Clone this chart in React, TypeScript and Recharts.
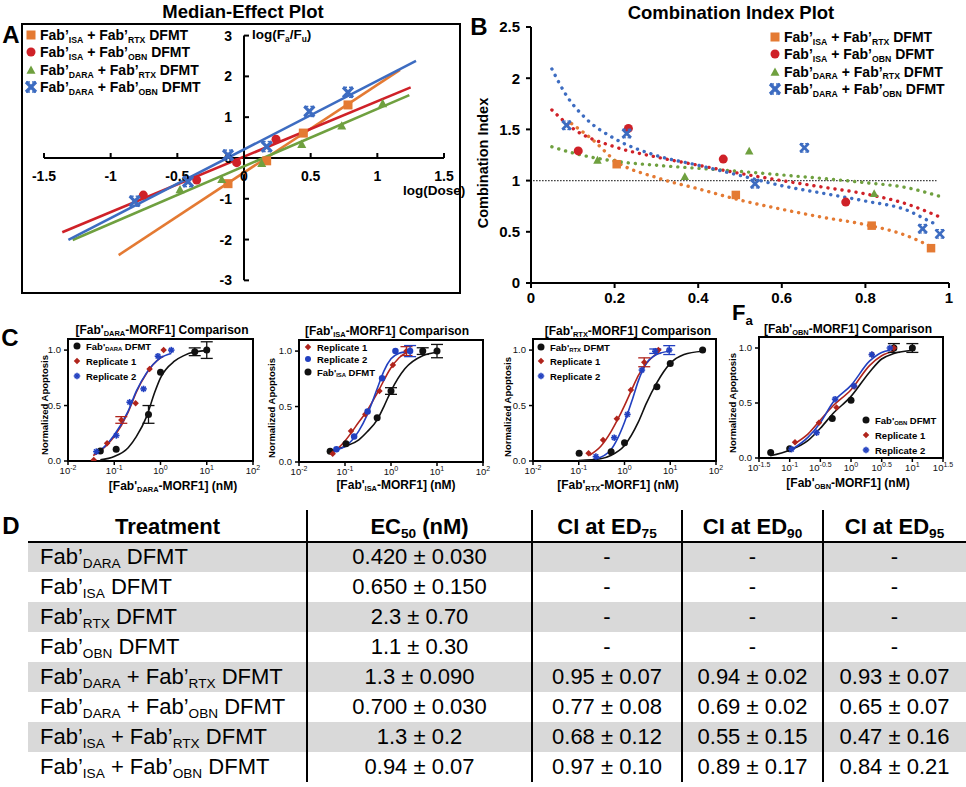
import React from "react"
import {
  ComposedChart, Line, Scatter, XAxis, YAxis, ReferenceLine, ReferenceArea, ErrorBar,
} from "recharts"

const ARIAL = "'Liberation Sans', Arial, sans-serif"

// combinations shared by panels A and B
const COMBOS = [["ISA", "RTX"], ["ISA", "OBN"], ["DARA", "RTX"], ["DARA", "OBN"]]
const COMBO_COLORS = ["#E47A33", "#CF2128", "#6FA03F", "#3D6CC1"]
const COMBO_SHAPES = ["square", "circle", "triangle", "cross"]

// ---- A: median-effect plot (log(Dose) vs log(Fa/Fu)) ----
const ME_X_TICKS = [-1.5, -1, -0.5, 0, 0.5, 1, 1.5]
const ME_Y_TICKS = [-3, -2, -1, 0, 1, 2, 3]
const ME_PTS_ISA_RTX = [{ x: -0.12, y: -0.63 }, { x: 0.17, y: -0.07 }, { x: 0.445, y: 0.61 }, { x: 0.78, y: 1.3 }]
const ME_PTS_ISA_OBN = [{ x: -0.755, y: -0.91 }, { x: -0.355, y: -0.54 }, { x: -0.055, y: -0.115 }, { x: 0.24, y: 0.46 }]
const ME_PTS_DARA_RTX = [{ x: -0.48, y: -0.77 }, { x: -0.167, y: -0.52 }, { x: 0.133, y: -0.13 }, { x: 0.433, y: 0.34 }, { x: 0.733, y: 0.79 }, { x: 1.04, y: 1.34 }]
const ME_PTS_DARA_OBN = [{ x: -0.82, y: -1.06 }, { x: -0.42, y: -0.58 }, { x: -0.12, y: 0.07 }, { x: 0.17, y: 0.28 }, { x: 0.49, y: 1.14 }, { x: 0.78, y: 1.61 }]
const ME_FIT_ISA_RTX = [{ x: -0.94, y: -2.38 }, { x: 1.17, y: 2.16 }]
const ME_FIT_ISA_OBN = [{ x: -1.363, y: -1.82 }, { x: 1.25, y: 1.73 }]
const ME_FIT_DARA_RTX = [{ x: -1.285, y: -2.01 }, { x: 1.24, y: 1.54 }]
const ME_FIT_DARA_OBN = [{ x: -1.317, y: -2.01 }, { x: 1.29, y: 2.38 }]

// ---- B: combination index plot (Fa vs CI) ----
const CI_X_TICKS = [0, 0.2, 0.4, 0.6, 0.8, 1]
const CI_Y_TICKS = [0, 0.5, 1, 1.5, 2, 2.5]
const CI_PTS_ISA_RTX = [{ x: 0.205, y: 1.16 }, { x: 0.49, y: 0.86 }, { x: 0.815, y: 0.56 }, { x: 0.957, y: 0.34 }]
const CI_PTS_ISA_OBN = [{ x: 0.113, y: 1.29 }, { x: 0.233, y: 1.51 }, { x: 0.46, y: 1.21 }, { x: 0.753, y: 0.79 }]
const CI_PTS_DARA_RTX = [{ x: 0.159, y: 1.2 }, { x: 0.368, y: 1.04 }, { x: 0.522, y: 1.29 }, { x: 0.821, y: 0.875 }]
const CI_PTS_DARA_OBN = [{ x: 0.085, y: 1.54 }, { x: 0.229, y: 1.46 }, { x: 0.536, y: 0.97 }, { x: 0.654, y: 1.32 }, { x: 0.937, y: 0.53 }, { x: 0.978, y: 0.48 }]
const CI_FIT_ISA_RTX = [{ x: 0.097, y: 1.556 }, { x: 0.15, y: 1.39 }, { x: 0.2, y: 1.2 }, { x: 0.3, y: 1.03 }, { x: 0.4, y: 0.92 }, { x: 0.5, y: 0.81 }, { x: 0.6, y: 0.72 }, { x: 0.7, y: 0.64 }, { x: 0.8, y: 0.57 }, { x: 0.9, y: 0.46 }, { x: 0.96, y: 0.35 }]
const CI_FIT_ISA_OBN = [{ x: 0.05, y: 1.69 }, { x: 0.1, y: 1.51 }, { x: 0.2, y: 1.33 }, { x: 0.3, y: 1.23 }, { x: 0.4, y: 1.15 }, { x: 0.5, y: 1.07 }, { x: 0.6, y: 1.0 }, { x: 0.7, y: 0.935 }, { x: 0.8, y: 0.87 }, { x: 0.9, y: 0.77 }, { x: 0.975, y: 0.65 }]
const CI_FIT_DARA_RTX = [{ x: 0.05, y: 1.33 }, { x: 0.1, y: 1.27 }, { x: 0.2, y: 1.19 }, { x: 0.3, y: 1.15 }, { x: 0.4, y: 1.12 }, { x: 0.5, y: 1.09 }, { x: 0.6, y: 1.055 }, { x: 0.7, y: 1.02 }, { x: 0.8, y: 0.98 }, { x: 0.9, y: 0.93 }, { x: 0.975, y: 0.85 }]
const CI_FIT_DARA_OBN = [{ x: 0.05, y: 2.09 }, { x: 0.085, y: 1.83 }, { x: 0.133, y: 1.6 }, { x: 0.2, y: 1.41 }, { x: 0.3, y: 1.245 }, { x: 0.4, y: 1.15 }, { x: 0.5, y: 1.05 }, { x: 0.6, y: 0.95 }, { x: 0.7, y: 0.875 }, { x: 0.8, y: 0.8 }, { x: 0.9, y: 0.71 }, { x: 0.95, y: 0.61 }, { x: 0.975, y: 0.56 }]

// ---- C: dose-response comparisons (nM vs normalized apoptosis) ----
const DEC_TICKS = [0.01, 0.1, 1, 10, 100]
const HALF_DEC_TICKS = [0.0316, 0.1, 0.316, 1, 3.16, 10, 31.6]

const DARA_DFMT_PTS = [{ x: 0.05, y: 0.09, e: 0 }, { x: 0.11, y: 0.106, e: 0 }, { x: 0.55, y: 0.42, e: 0.08 }, { x: 1.0, y: 0.8, e: 0 }, { x: 5.5, y: 0.985, e: 0.035 }, { x: 10, y: 1.0, e: 0.075 }]
const DARA_R1_PTS = [{ x: 0.036, y: 0.01, e: 0 }, { x: 0.07, y: 0.16, e: 0 }, { x: 0.142, y: 0.37, e: 0.03 }, { x: 0.29, y: 0.52, e: 0 }, { x: 0.58, y: 0.83, e: 0 }, { x: 1.17, y: 1.0, e: 0 }]
const DARA_R2_PTS = [{ x: 0.041, y: 0.085, e: 0 }, { x: 0.111, y: 0.23, e: 0 }, { x: 0.215, y: 0.53, e: 0 }, { x: 0.43, y: 0.65, e: 0 }, { x: 0.88, y: 0.945, e: 0 }, { x: 1.71, y: 1.0, e: 0 }]
const DARA_DFMT_FIT = [{ x: 0.05, y: 0.01 }, { x: 0.1, y: 0.04 }, { x: 0.2, y: 0.12 }, { x: 0.3, y: 0.22 }, { x: 0.5, y: 0.4 }, { x: 0.75, y: 0.62 }, { x: 1, y: 0.75 }, { x: 2, y: 0.9 }, { x: 3.2, y: 0.95 }, { x: 5, y: 0.98 }, { x: 10, y: 0.995 }]
const DARA_R1_FIT = [{ x: 0.035, y: 0.05 }, { x: 0.05, y: 0.09 }, { x: 0.1, y: 0.22 }, { x: 0.2, y: 0.44 }, { x: 0.3, y: 0.62 }, { x: 0.5, y: 0.79 }, { x: 1, y: 0.93 }, { x: 1.15, y: 0.945 }]
const DARA_R2_FIT = [{ x: 0.038, y: 0.08 }, { x: 0.05, y: 0.1 }, { x: 0.1, y: 0.235 }, { x: 0.2, y: 0.45 }, { x: 0.3, y: 0.63 }, { x: 0.5, y: 0.795 }, { x: 1, y: 0.93 }, { x: 1.7, y: 0.97 }]

const ISA_DFMT_PTS = [{ x: 0.0475, y: 0.096, e: 0 }, { x: 0.105, y: 0.165, e: 0 }, { x: 0.5, y: 0.4, e: 0 }, { x: 1.0, y: 0.64, e: 0.03 }, { x: 4.9, y: 1.0, e: 0.03 }, { x: 10, y: 1.0, e: 0.06 }]
const ISA_R1_PTS = [{ x: 0.054, y: 0.075, e: 0 }, { x: 0.135, y: 0.28, e: 0 }, { x: 0.276, y: 0.43, e: 0 }, { x: 0.56, y: 0.64, e: 0 }, { x: 1.1, y: 0.875, e: 0 }, { x: 2.17, y: 1.0, e: 0.04 }]
const ISA_R2_PTS = [{ x: 0.065, y: 0.115, e: 0 }, { x: 0.158, y: 0.23, e: 0 }, { x: 0.31, y: 0.455, e: 0 }, { x: 0.64, y: 0.755, e: 0 }, { x: 1.25, y: 1.0, e: 0 }, { x: 2.6, y: 1.0, e: 0.05 }]
const ISA_DFMT_FIT = [{ x: 0.045, y: 0.095 }, { x: 0.1, y: 0.14 }, { x: 0.2, y: 0.2 }, { x: 0.3, y: 0.27 }, { x: 0.5, y: 0.38 }, { x: 0.7, y: 0.5 }, { x: 1, y: 0.64 }, { x: 2, y: 0.84 }, { x: 5, y: 0.96 }, { x: 10, y: 0.99 }]
const ISA_R1_FIT = [{ x: 0.055, y: 0.08 }, { x: 0.1, y: 0.19 }, { x: 0.2, y: 0.36 }, { x: 0.3, y: 0.46 }, { x: 0.5, y: 0.62 }, { x: 1, y: 0.85 }, { x: 1.5, y: 0.94 }, { x: 2.2, y: 0.99 }]
const ISA_R2_FIT = [{ x: 0.065, y: 0.11 }, { x: 0.1, y: 0.14 }, { x: 0.2, y: 0.28 }, { x: 0.3, y: 0.42 }, { x: 0.5, y: 0.66 }, { x: 0.7, y: 0.82 }, { x: 1, y: 0.93 }, { x: 1.5, y: 0.98 }, { x: 2.6, y: 1.0 }]

const RTX_DFMT_PTS = [{ x: 0.102, y: 0.07, e: 0 }, { x: 0.51, y: 0.084, e: 0 }, { x: 1.0, y: 0.165, e: 0 }, { x: 5.1, y: 0.67, e: 0 }, { x: 10, y: 0.88, e: 0 }, { x: 51, y: 1.0, e: 0 }]
const RTX_R1_PTS = [{ x: 0.164, y: 0.07, e: 0 }, { x: 0.34, y: 0.19, e: 0 }, { x: 0.68, y: 0.38, e: 0 }, { x: 1.38, y: 0.64, e: 0 }, { x: 2.7, y: 0.89, e: 0.04 }, { x: 5.5, y: 1.0, e: 0 }]
const RTX_R2_PTS = [{ x: 0.237, y: 0.04, e: 0 }, { x: 0.596, y: 0.21, e: 0 }, { x: 1.16, y: 0.42, e: 0 }, { x: 2.4, y: 0.82, e: 0 }, { x: 4.7, y: 0.99, e: 0.02 }, { x: 9.5, y: 1.0, e: 0.04 }]
const RTX_DFMT_FIT = [{ x: 0.1, y: 0.005 }, { x: 0.3, y: 0.02 }, { x: 0.5, y: 0.05 }, { x: 1, y: 0.14 }, { x: 2, y: 0.35 }, { x: 3, y: 0.52 }, { x: 5, y: 0.7 }, { x: 10, y: 0.88 }, { x: 20, y: 0.96 }, { x: 50, y: 0.99 }]
const RTX_R1_FIT = [{ x: 0.17, y: 0.05 }, { x: 0.3, y: 0.13 }, { x: 0.5, y: 0.26 }, { x: 0.7, y: 0.37 }, { x: 1, y: 0.5 }, { x: 1.5, y: 0.66 }, { x: 2, y: 0.77 }, { x: 3, y: 0.88 }, { x: 5.5, y: 0.98 }]
const RTX_R2_FIT = [{ x: 0.24, y: 0.02 }, { x: 0.5, y: 0.1 }, { x: 0.7, y: 0.2 }, { x: 1, y: 0.35 }, { x: 1.5, y: 0.56 }, { x: 2, y: 0.72 }, { x: 3, y: 0.88 }, { x: 5, y: 0.96 }, { x: 9.5, y: 0.99 }]

const OBN_DFMT_PTS = [{ x: 0.049, y: 0.05, e: 0 }, { x: 0.1, y: 0.084, e: 0 }, { x: 0.495, y: 0.36, e: 0 }, { x: 1.0, y: 0.525, e: 0 }, { x: 5.0, y: 1.0, e: 0.04 }, { x: 10, y: 1.0, e: 0.04 }]
const OBN_R1_PTS = [{ x: 0.122, y: 0.144, e: 0 }, { x: 0.3, y: 0.32, e: 0 }, { x: 0.58, y: 0.46, e: 0 }, { x: 1.13, y: 0.65, e: 0 }, { x: 2.2, y: 0.94, e: 0 }, { x: 5.0, y: 1.0, e: 0 }]
const OBN_R2_PTS = [{ x: 0.107, y: 0.08, e: 0 }, { x: 0.275, y: 0.23, e: 0 }, { x: 0.55, y: 0.535, e: 0 }, { x: 1.12, y: 0.655, e: 0 }, { x: 2.18, y: 0.94, e: 0 }, { x: 4.3, y: 1.0, e: 0 }]
const OBN_DFMT_FIT = [{ x: 0.048, y: 0.02 }, { x: 0.1, y: 0.07 }, { x: 0.2, y: 0.16 }, { x: 0.316, y: 0.27 }, { x: 0.5, y: 0.4 }, { x: 1, y: 0.56 }, { x: 2, y: 0.78 }, { x: 3.16, y: 0.9 }, { x: 5, y: 0.95 }, { x: 10, y: 0.98 }]
const OBN_R1_FIT = [{ x: 0.12, y: 0.13 }, { x: 0.2, y: 0.22 }, { x: 0.316, y: 0.345 }, { x: 0.5, y: 0.47 }, { x: 1, y: 0.62 }, { x: 2, y: 0.84 }, { x: 3.16, y: 0.93 }, { x: 5, y: 0.97 }]
const OBN_R2_FIT = [{ x: 0.11, y: 0.08 }, { x: 0.2, y: 0.19 }, { x: 0.316, y: 0.32 }, { x: 0.5, y: 0.5 }, { x: 1, y: 0.66 }, { x: 2, y: 0.88 }, { x: 3.16, y: 0.96 }, { x: 4.3, y: 0.98 }]

// ---- D: table ----
const TREATMENTS = [["DARA"], ["ISA"], ["RTX"], ["OBN"], ["DARA", "RTX"], ["DARA", "OBN"], ["ISA", "RTX"], ["ISA", "OBN"]]
const EC50 = ["0.420 ± 0.030", "0.650 ± 0.150", "2.3 ± 0.70", "1.1 ± 0.30", "1.3 ± 0.090", "0.700 ± 0.030", "1.3 ± 0.2", "0.94 ± 0.07"]
const CI_ED75 = ["-", "-", "-", "-", "0.95 ± 0.07", "0.77 ± 0.08", "0.68 ± 0.12", "0.97 ± 0.10"]
const CI_ED90 = ["-", "-", "-", "-", "0.94 ± 0.02", "0.69 ± 0.02", "0.55 ± 0.15", "0.89 ± 0.17"]
const CI_ED95 = ["-", "-", "-", "-", "0.93 ± 0.07", "0.65 ± 0.07", "0.47 ± 0.16", "0.84 ± 0.21"]

const C_BLACK = "#111111"
const C_RED = "#B0241C"
const C_BLUE = "#2240C0"

function Mark({ shape, color, cx, cy, s }: { shape: string; color: string; cx: number; cy: number; s: number }) {
  const h = s / 2
  if (shape === "square") return <rect x={cx - h} y={cy - h} width={s} height={s} fill={color} />
  if (shape === "circle") return <circle cx={cx} cy={cy} r={h} fill={color} />
  if (shape === "triangle") return <polygon points={`${cx},${cy - h} ${cx + h},${cy + h * 0.85} ${cx - h},${cy + h * 0.85}`} fill={color} />
  if (shape === "diamond") return <polygon points={`${cx},${cy - h} ${cx + h},${cy} ${cx},${cy + h} ${cx - h},${cy}`} fill={color} />
  if (shape === "cross")
    return (
      <g stroke={color}>
        <line x1={cx - h} y1={cy - h} x2={cx + h} y2={cy + h} strokeWidth={s * 0.32} />
        <line x1={cx + h} y1={cy - h} x2={cx - h} y2={cy + h} strokeWidth={s * 0.32} />
        <line x1={cx - h} y1={cy - h} x2={cx - h * 0.2} y2={cy - h} strokeWidth={s * 0.14} />
        <line x1={cx + h * 0.2} y1={cy - h} x2={cx + h} y2={cy - h} strokeWidth={s * 0.14} />
        <line x1={cx - h} y1={cy + h} x2={cx - h * 0.2} y2={cy + h} strokeWidth={s * 0.14} />
        <line x1={cx + h * 0.2} y1={cy + h} x2={cx + h} y2={cy + h} strokeWidth={s * 0.14} />
      </g>
    )
  // asterisk
  return (
    <g stroke={color} strokeWidth={1.6}>
      <line x1={cx - h} y1={cy} x2={cx + h} y2={cy} />
      <line x1={cx} y1={cy - h} x2={cx} y2={cy + h} />
      <line x1={cx - h * 0.7} y1={cy - h * 0.7} x2={cx + h * 0.7} y2={cy + h * 0.7} />
      <line x1={cx + h * 0.7} y1={cy - h * 0.7} x2={cx - h * 0.7} y2={cy + h * 0.7} />
    </g>
  )
}

function Sub({ children }: { children: React.ReactNode }) {
  return <span style={{ fontSize: "0.62em", position: "relative", top: "0.32em" }}>{children}</span>
}

function Combo({ abs, prime = "’" }: { abs: string[]; prime?: string }) {
  return (
    <>
      {abs.map((a, i) => (
        <React.Fragment key={a}>
          {i > 0 ? " + " : ""}Fab{prime}<Sub>{a}</Sub>
        </React.Fragment>
      ))}{" "}DFMT
    </>
  )
}

function At({ x, y, children, style, rotate }: { x: number; y: number; children: React.ReactNode; style?: React.CSSProperties; rotate?: boolean }) {
  return (
    <div
      style={{
        position: "absolute", left: x, top: y, whiteSpace: "nowrap", lineHeight: 1,
        transform: `translate(-50%, -50%)${rotate ? " rotate(-90deg)" : ""}`, ...style,
      }}
    >
      {children}
    </div>
  )
}

function LegendRow({ x, y, shape, color, s, font, children }: { x: number; y: number; shape: string; color: string; s: number; font: number; children: React.ReactNode }) {
  return (
    <div style={{ position: "absolute", left: x - 8, top: y - 8, height: 16, display: "flex", alignItems: "center", whiteSpace: "nowrap", fontWeight: 700, fontSize: font }}>
      <svg width={16} height={16} style={{ flex: "none" }}>
        <Mark shape={shape} color={color} cx={8} cy={8} s={s} />
      </svg>
      <span style={{ marginLeft: 1 }}>{children}</span>
    </div>
  )
}

function PanelA() {
  const L = 22, T = 24, W = 438, H = 269
  const fits = [ME_FIT_ISA_RTX, ME_FIT_ISA_OBN, ME_FIT_DARA_RTX, ME_FIT_DARA_OBN]
  const pts = [ME_PTS_ISA_RTX, ME_PTS_ISA_OBN, ME_PTS_DARA_RTX, ME_PTS_DARA_OBN]
  const tickFont = { fontSize: 14, fontWeight: 700, fontFamily: ARIAL, fill: "#000" }
  return (
    <>
      <div style={{ position: "absolute", left: L - 1, top: T - 1, width: W + 2, height: H + 2, border: "2px solid #000", boxSizing: "border-box" }} />
      <div style={{ position: "absolute", left: L, top: T }}>
        <ComposedChart width={W} height={H} margin={{ top: 0, right: 0, left: 0, bottom: 0 }}>
          <XAxis hide type="number" dataKey="x" domain={[-1.665, 1.62]} allowDataOverflow />
          <YAxis hide type="number" dataKey="y" domain={[-3.31, 3.284]} allowDataOverflow />
          <ReferenceLine segment={[{ x: -1.5, y: 0 }, { x: 1.5, y: 0 }]} stroke="#000" strokeWidth={2} />
          <ReferenceLine segment={[{ x: 0, y: -3 }, { x: 0, y: 3 }]} stroke="#000" strokeWidth={2} />
          <Scatter
            data={ME_X_TICKS.map((v) => ({ x: v, y: 0 }))}
            isAnimationActive={false}
            shape={(p: any) => (
              <g>
                <line x1={p.cx} x2={p.cx} y1={p.cy} y2={p.cy - 5} stroke="#000" strokeWidth={2} />
                <text x={p.cx} y={p.cy + 23} textAnchor="middle" {...tickFont}>{String(p.payload.x)}</text>
              </g>
            )}
          />
          <Scatter
            data={ME_Y_TICKS.map((v) => ({ x: 0, y: v }))}
            isAnimationActive={false}
            shape={(p: any) => (
              <g>
                <line x1={p.cx} x2={p.cx + 5} y1={p.cy} y2={p.cy} stroke="#000" strokeWidth={2} />
                <text x={p.cx - 12} y={p.cy + 5} textAnchor="end" {...tickFont}>{String(p.payload.y)}</text>
              </g>
            )}
          />
          {fits.map((d, i) => (
            <Line key={"f" + i} data={d} dataKey="y" type="linear" stroke={COMBO_COLORS[i]} strokeWidth={2.6} dot={false} isAnimationActive={false} />
          ))}
          {pts.map((d, i) => (
            <Scatter key={"p" + i} data={d} isAnimationActive={false}
              shape={(p: any) => <Mark shape={COMBO_SHAPES[i]} color={COMBO_COLORS[i]} cx={p.cx} cy={p.cy} s={i === 3 ? 10 : 9} />} />
          ))}
        </ComposedChart>
      </div>
      <At x={243} y={12} style={{ fontSize: 18.5, fontWeight: 700 }}>Median-Effect Plot</At>
      <At x={11} y={35} style={{ fontSize: 24, fontWeight: 700 }}>A</At>
      {COMBOS.map((c, i) => (
        <LegendRow key={i} x={31} y={35 + i * 17.4} shape={COMBO_SHAPES[i]} color={COMBO_COLORS[i]} s={i === 3 ? 10 : 9} font={14}>
          <Combo abs={c} />
        </LegendRow>
      ))}
      <div style={{ position: "absolute", left: 252, top: 27, fontSize: 13.5, fontWeight: 700, whiteSpace: "nowrap" }}>
        log(F<Sub>a</Sub>/F<Sub>u</Sub>)
      </div>
      <div style={{ position: "absolute", left: 403, top: 183, fontSize: 13.5, fontWeight: 700, whiteSpace: "nowrap" }}>log(Dose)</div>
    </>
  )
}

function PanelB() {
  const fits = [CI_FIT_ISA_RTX, CI_FIT_ISA_OBN, CI_FIT_DARA_RTX, CI_FIT_DARA_OBN]
  const pts = [CI_PTS_ISA_RTX, CI_PTS_ISA_OBN, CI_PTS_DARA_RTX, CI_PTS_DARA_OBN]
  const tickFont = { fontSize: 15, fontWeight: 700, fill: "#000", fontFamily: ARIAL }
  return (
    <>
      <div style={{ position: "absolute", left: 480, top: 17 }}>
        <ComposedChart width={480} height={300} margin={{ top: 10, right: 11, left: 0, bottom: 0 }}>
          <XAxis type="number" dataKey="x" domain={[0, 1]} ticks={CI_X_TICKS} interval={0} height={34}
            axisLine={{ stroke: "#000", strokeWidth: 2 }} tickLine={{ stroke: "#000", strokeWidth: 2 }} tickSize={5} tickMargin={4}
            tick={tickFont} tickFormatter={(v: number) => String(v)} allowDataOverflow />
          <YAxis type="number" dataKey="y" domain={[0, 2.5]} ticks={CI_Y_TICKS} interval={0} width={51}
            axisLine={{ stroke: "#000", strokeWidth: 2 }} tickLine={{ stroke: "#000", strokeWidth: 2 }} tickSize={5} tickMargin={6}
            tick={tickFont} tickFormatter={(v: number) => String(v)} allowDataOverflow />
          <ReferenceLine segment={[{ x: 0.005, y: 1 }, { x: 0.97, y: 1 }]} stroke="#333" strokeWidth={1.2} strokeDasharray="1.5 1.5" />
          {fits.map((d, i) => (
            <Line key={"f" + i} data={d} dataKey="y" type="monotone" stroke={COMBO_COLORS[i]} strokeWidth={3.4}
              strokeDasharray="0.1 7" strokeLinecap="round" dot={false} isAnimationActive={false} />
          ))}
          {pts.map((d, i) => (
            <Scatter key={"p" + i} data={d} isAnimationActive={false}
              shape={(p: any) => <Mark shape={COMBO_SHAPES[i]} color={COMBO_COLORS[i]} cx={p.cx} cy={p.cy} s={i === 1 ? 9 : 8.5} />} />
          ))}
        </ComposedChart>
      </div>
      <At x={731} y={13} style={{ fontSize: 18.5, fontWeight: 700 }}>Combination Index Plot</At>
      <At x={479} y={27} style={{ fontSize: 24, fontWeight: 700 }}>B</At>
      <At x={483} y={163} rotate style={{ fontSize: 14.5, fontWeight: 700 }}>Combination Index</At>
      <div style={{ position: "absolute", left: 732, top: 300, fontSize: 22, fontWeight: 700, whiteSpace: "nowrap" }}>
        F<span style={{ fontSize: "0.6em", position: "relative", top: "0.35em" }}>a</span>
      </div>
      {COMBOS.map((c, i) => (
        <LegendRow key={i} x={775} y={37 + i * 17.3} shape={COMBO_SHAPES[i]} color={COMBO_COLORS[i]} s={i === 3 ? 10 : 9} font={14}>
          <Combo abs={c} />
        </LegendRow>
      ))}
    </>
  )
}

function LogTick(props: any) {
  const { x, y, payload } = props
  const exp = Math.round(Math.log10(payload.value) * 10) / 10
  return (
    <text x={x} y={y + 7} textAnchor="middle" fontSize={9.5} fontFamily={ARIAL} fill="#111">
      10<tspan dy={-4} fontSize={7}>{String(exp)}</tspan>
    </text>
  )
}

type Pt = { x: number; y: number; e?: number }
interface Series { pts: Pt[]; fit: Pt[]; color: string; shape: string }

function DoseChart({ box, domain, ticks, series }: { box: { l: number; t: number; w: number; h: number }; domain: [number, number]; ticks: number[]; series: Series[] }) {
  const ML = 40, MT = 6, MR = 18, XH = 24
  return (
    <div style={{ position: "absolute", left: box.l - ML, top: box.t - MT }}>
      <ComposedChart width={box.w + ML + MR} height={box.h + MT + XH} margin={{ top: MT, right: MR, left: 0, bottom: 0 }}>
        <XAxis type="number" dataKey="x" scale="log" domain={domain} ticks={ticks} interval={0} allowDataOverflow height={XH}
          axisLine={false} tickLine={{ stroke: "#000", strokeWidth: 1.5 }} tickSize={4} tickMargin={2} tick={<LogTick />} />
        <YAxis type="number" dataKey="y" domain={[0, 1.1]} ticks={[0, 0.5, 1]} interval={0} allowDataOverflow width={ML}
          axisLine={false} tickLine={{ stroke: "#000", strokeWidth: 1.5 }} tickSize={4} tickMargin={3}
          tick={{ fontSize: 9.5, fill: "#111", fontFamily: ARIAL }} tickFormatter={(v: number) => v.toFixed(1)} />
        <ReferenceArea x1={domain[0]} x2={domain[1]} y1={0} y2={1.1} fill="none" fillOpacity={0} stroke="#000" strokeWidth={2} ifOverflow="visible" />
        {series.map((s, i) => (
          <Line key={"f" + i} data={s.fit} dataKey="y" type="monotone" stroke={s.color} strokeWidth={1.6} dot={false} isAnimationActive={false} />
        ))}
        {series.map((s, i) => (
          <Scatter key={"p" + i} data={s.pts} isAnimationActive={false}
            shape={(p: any) => <Mark shape={s.shape} color={s.color} cx={p.cx} cy={p.cy} s={s.shape === "circle" && s.color !== C_BLUE ? 7 : 6.5} />}>
            <ErrorBar dataKey="e" direction="y" width={6} stroke={s.color} strokeWidth={1.3} />
          </Scatter>
        ))}
      </ComposedChart>
    </div>
  )
}

function PanelC() {
  const lbl = { fontSize: 9.5, fontWeight: 700 }
  const title = { fontSize: 12, fontWeight: 700 }
  const xl = { fontSize: 12, fontWeight: 700 }
  return (
    <>
      <At x={10} y={338} style={{ fontSize: 24, fontWeight: 700 }}>C</At>

      <DoseChart box={{ l: 68, t: 339, w: 185, h: 122 }} domain={[0.01, 100]} ticks={DEC_TICKS} series={[
        { pts: DARA_DFMT_PTS, fit: DARA_DFMT_FIT, color: C_BLACK, shape: "circle" },
        { pts: DARA_R1_PTS, fit: DARA_R1_FIT, color: C_RED, shape: "diamond" },
        { pts: DARA_R2_PTS, fit: DARA_R2_FIT, color: C_BLUE, shape: "star" },
      ]} />
      <At x={162} y={330} style={title}>[Fab'<Sub>DARA</Sub>-MORF1] Comparison</At>
      <At x={173} y={486} style={xl}>[Fab'<Sub>DARA</Sub>-MORF1] (nM)</At>
      <At x={45} y={405} rotate style={lbl}>Normalized Apoptosis</At>
      <LegendRow x={77} y={346} shape="circle" color={C_BLACK} s={7} font={9.5}>Fab'<Sub>DARA</Sub> DFMT</LegendRow>
      <LegendRow x={77} y={361} shape="diamond" color={C_RED} s={6.5} font={9.5}>Replicate 1</LegendRow>
      <LegendRow x={77} y={376} shape="star" color={C_BLUE} s={6.5} font={9.5}>Replicate 2</LegendRow>

      <DoseChart box={{ l: 299, t: 340, w: 184, h: 122 }} domain={[0.01, 100]} ticks={DEC_TICKS} series={[
        { pts: ISA_DFMT_PTS, fit: ISA_DFMT_FIT, color: C_BLACK, shape: "circle" },
        { pts: ISA_R1_PTS, fit: ISA_R1_FIT, color: C_RED, shape: "diamond" },
        { pts: ISA_R2_PTS, fit: ISA_R2_FIT, color: C_BLUE, shape: "circle" },
      ]} />
      <At x={387} y={331} style={title}>[Fab'<Sub>ISA</Sub>-MORF1] Comparison</At>
      <At x={396} y={485} style={xl}>[Fab'<Sub>ISA</Sub>-MORF1] (nM)</At>
      <At x={272} y={408} rotate style={lbl}>Normalized Apoptosis</At>
      <LegendRow x={308} y={347} shape="diamond" color={C_RED} s={6.5} font={9.5}>Replicate 1</LegendRow>
      <LegendRow x={308} y={359} shape="circle" color={C_BLUE} s={6} font={9.5}>Replicate 2</LegendRow>
      <LegendRow x={308} y={372} shape="circle" color={C_BLACK} s={7} font={9.5}>Fab'<Sub>ISA</Sub> DFMT</LegendRow>

      <DoseChart box={{ l: 533, t: 339, w: 183, h: 122 }} domain={[0.01, 100]} ticks={DEC_TICKS} series={[
        { pts: RTX_DFMT_PTS, fit: RTX_DFMT_FIT, color: C_BLACK, shape: "circle" },
        { pts: RTX_R1_PTS, fit: RTX_R1_FIT, color: C_RED, shape: "diamond" },
        { pts: RTX_R2_PTS, fit: RTX_R2_FIT, color: C_BLUE, shape: "star" },
      ]} />
      <At x={628} y={331} style={title}>[Fab'<Sub>RTX</Sub>-MORF1] Comparison</At>
      <At x={618} y={485} style={xl}>[Fab'<Sub>RTX</Sub>-MORF1] (nM)</At>
      <At x={508} y={407} rotate style={lbl}>Normalized Apoptosis</At>
      <LegendRow x={541} y={347} shape="circle" color={C_BLACK} s={7} font={9.5}>Fab'<Sub>RTX</Sub> DFMT</LegendRow>
      <LegendRow x={541} y={361} shape="diamond" color={C_RED} s={6.5} font={9.5}>Replicate 1</LegendRow>
      <LegendRow x={541} y={376} shape="star" color={C_BLUE} s={6.5} font={9.5}>Replicate 2</LegendRow>

      <DoseChart box={{ l: 759, t: 337, w: 184, h: 121 }} domain={[0.0316, 31.6]} ticks={HALF_DEC_TICKS} series={[
        { pts: OBN_DFMT_PTS, fit: OBN_DFMT_FIT, color: C_BLACK, shape: "circle" },
        { pts: OBN_R1_PTS, fit: OBN_R1_FIT, color: C_RED, shape: "diamond" },
        { pts: OBN_R2_PTS, fit: OBN_R2_FIT, color: C_BLUE, shape: "star" },
      ]} />
      <At x={848} y={329} style={title}>[Fab'<Sub>OBN</Sub>-MORF1] Comparison</At>
      <At x={848} y={483} style={xl}>[Fab'<Sub>OBN</Sub>-MORF1] (nM)</At>
      <At x={733} y={403} rotate style={lbl}>Normalized Apoptosis</At>
      <LegendRow x={866} y={420} shape="circle" color={C_BLACK} s={7} font={9.5}>Fab'<Sub>OBN</Sub> DFMT</LegendRow>
      <LegendRow x={866} y={435} shape="diamond" color={C_RED} s={6.5} font={9.5}>Replicate 1</LegendRow>
      <LegendRow x={866} y={450} shape="star" color={C_BLUE} s={6.5} font={9.5}>Replicate 2</LegendRow>
    </>
  )
}

function PanelD() {
  const COLS = [28, 307, 532, 682, 823, 966]
  const TOP = 542, RH = 30
  const cell = { fontFamily: ARIAL, fontSize: 22 }
  const cols = [EC50, CI_ED75, CI_ED90, CI_ED95]
  return (
    <>
      <At x={11} y={526} style={{ fontSize: 24, fontWeight: 700 }}>D</At>
      {TREATMENTS.map((_, i) =>
        i % 2 === 0 ? (
          <div key={"bg" + i} style={{ position: "absolute", left: COLS[0], top: TOP + i * RH, width: COLS[5] - COLS[0], height: RH, background: "#D9D9D9" }} />
        ) : null
      )}
      <div style={{ position: "absolute", left: COLS[0], top: TOP - 1, width: COLS[5] - COLS[0], height: 2, background: "#000" }} />
      {COLS.slice(1, 5).map((x) => (
        <div key={"v" + x} style={{ position: "absolute", left: x - 0.75, top: 510, width: 1.5, height: 272, background: "#000" }} />
      ))}
      <At x={(COLS[0] + COLS[1]) / 2} y={527} style={{ ...cell, fontWeight: 700 }}>Treatment</At>
      <At x={(COLS[1] + COLS[2]) / 2} y={527} style={{ ...cell, fontWeight: 700 }}>EC<Sub>50</Sub> (nM)</At>
      <At x={(COLS[2] + COLS[3]) / 2} y={527} style={{ ...cell, fontWeight: 700 }}>CI at ED<Sub>75</Sub></At>
      <At x={(COLS[3] + COLS[4]) / 2} y={527} style={{ ...cell, fontWeight: 700 }}>CI at ED<Sub>90</Sub></At>
      <At x={(COLS[4] + COLS[5]) / 2} y={527} style={{ ...cell, fontWeight: 700 }}>CI at ED<Sub>95</Sub></At>
      {TREATMENTS.map((t, i) => (
        <React.Fragment key={"r" + i}>
          <div style={{ ...cell, position: "absolute", left: 40, top: TOP + i * RH + RH / 2, transform: "translateY(-50%)", whiteSpace: "nowrap", lineHeight: 1 }}>
            <Combo abs={t} />
          </div>
          {cols.map((c, j) => (
            <At key={j} x={(COLS[j + 1] + COLS[j + 2]) / 2} y={TOP + i * RH + RH / 2} style={cell}>{c[i]}</At>
          ))}
        </React.Fragment>
      ))}
    </>
  )
}

export default function App() {
  return (
    <div style={{ position: "absolute", left: 0, top: 0, width: 966, height: 787, background: "#fff", fontFamily: ARIAL, color: "#000", overflow: "hidden" }}>
      <PanelA />
      <PanelB />
      <PanelC />
      <PanelD />
    </div>
  )
}
